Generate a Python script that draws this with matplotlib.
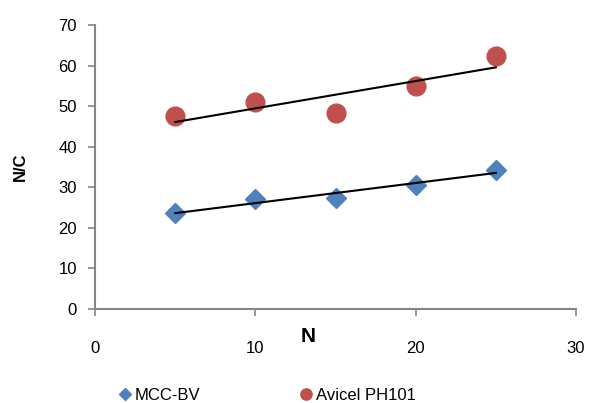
import matplotlib
matplotlib.use("Agg")
import matplotlib.pyplot as plt
import numpy as np

plt.rcParams['font.family'] = ['Liberation Sans', 'DejaVu Sans']

N = [5, 10, 15, 20, 25]
mcc_bv = [23.7, 27.0, 27.3, 30.6, 34.3]
avicel = [47.6, 50.9, 48.2, 55.0, 62.4]
x_ticks = [0, 10, 20, 30]
y_ticks = [0, 10, 20, 30, 40, 50, 60, 70]

fig = plt.figure(figsize=(5.92, 4.03), dpi=100)
ax = fig.add_axes([95/592, 1-309/403, (576-95)/592, (309-25)/403])

blue = '#4F81BD'
red = '#C0504D'
gray = '#868686'

ax.plot(N, mcc_bv, linestyle='none', marker='D', ms=10, color=blue, label='MCC-BV', zorder=3)
ax.plot(N, avicel, linestyle='none', marker='o', ms=13.5, color=red, label='Avicel PH101', zorder=3)

xs = np.array([N[0], N[-1]])
for ys in (mcc_bv, avicel):
    p = np.polyfit(N, ys, 1)
    ax.plot(xs, np.polyval(p, xs), color='black', lw=1.5, zorder=4)

ax.set_xlim(0, 30)
ax.set_ylim(0, 70)
ax.set_xticks(x_ticks)
ax.set_yticks(y_ticks)
for s in ['top', 'right']:
    ax.spines[s].set_visible(False)
for s in ['left', 'bottom']:
    ax.spines[s].set_color(gray)
    ax.spines[s].set_linewidth(1.5)
ax.tick_params(axis='both', colors=gray, width=1.2, length=5, labelcolor='black', labelsize=12)
ax.tick_params(axis='x', pad=18)
ax.tick_params(axis='y', pad=8)

ax.set_xlabel('N', fontsize=15, fontweight='bold', va='center')
ax.xaxis.set_label_coords((308-95)/481, (309-337)/284)
ax.set_ylabel('N/C', fontsize=12, fontweight='bold', va='center')
ax.yaxis.set_label_coords((20-95)/481, 0.5)

fig.legend(loc='center left', bbox_to_anchor=(100/592, 1-395/403), ncol=2, frameon=False,
           fontsize=12, markerscale=0.6, handletextpad=0.0, columnspacing=5.7,
           handlelength=1.2)

fig.savefig('out.png', dpi=100)
